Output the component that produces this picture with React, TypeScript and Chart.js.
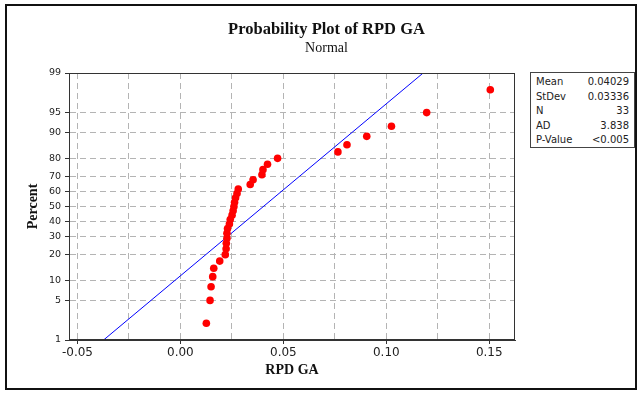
import React, { useEffect, useRef } from "react";
import { Chart, registerables } from "chart.js";

Chart.register(...registerables);

const rpdValues = [
  0.0126, 0.0144, 0.0149, 0.0157, 0.0162, 0.0191, 0.0218, 0.0222, 0.0223, 0.0226,
  0.0226, 0.0229, 0.0238, 0.0242, 0.0251, 0.0256, 0.026, 0.0263, 0.0268, 0.0275,
  0.0281, 0.0339, 0.0353, 0.0396, 0.0401, 0.0423, 0.0472, 0.0765, 0.0809, 0.0905,
  0.1025, 0.1196, 0.1505,
];
// Plotting positions (percent)
const percentValues = [
  2.1, 5.09, 8.08, 11.08, 14.07, 17.07, 20.06, 23.05, 26.05, 29.04,
  32.04, 35.03, 38.02, 41.02, 44.01, 47.01, 50.0, 52.99, 55.99, 58.98,
  61.98, 64.97, 67.96, 70.96, 73.95, 76.95, 79.94, 82.93, 85.93, 88.92,
  91.92, 94.91, 97.9,
];
// Fitted normal line end points
const fitLineX = [-0.0373, 0.1179];
const fitLinePercent = [1, 99];

const yTickPercents = [1, 5, 10, 20, 30, 40, 50, 60, 70, 80, 90, 95, 99];
const xTickValues = [-0.05, -0.025, 0, 0.025, 0.05, 0.075, 0.1, 0.125, 0.15];
const xTickLabels = ["-0.05", "", "0.00", "", "0.05", "", "0.10", "", "0.15"];

const statLabels = ["Mean", "StDev", "N", "AD", "P-Value"];
const statValues = ["0.04029", "0.03336", "33", "3.838", "<0.005"];

function probit(p: number): number {
  const a = [-3.969683028665376e1, 2.209460984245205e2, -2.759285104469687e2, 1.38357751867269e2, -3.066479806614716e1, 2.506628277459239];
  const b = [-5.447609879822406e1, 1.615858368580409e2, -1.556989798598866e2, 6.680131188771972e1, -1.328068155288572e1];
  const c = [-7.784894002430293e-3, -3.223964580411365e-1, -2.400758277161838, -2.549732539343734, 4.374664141464968, 2.938163982698783];
  const d = [7.784695709041462e-3, 3.224671290700398e-1, 2.445134137142996, 3.754408661907416];
  const pl = 0.02425;
  const ph = 1 - pl;
  let q: number, r: number;
  if (p < pl) {
    q = Math.sqrt(-2 * Math.log(p));
    return (((((c[0] * q + c[1]) * q + c[2]) * q + c[3]) * q + c[4]) * q + c[5]) / ((((d[0] * q + d[1]) * q + d[2]) * q + d[3]) * q + 1);
  }
  if (p <= ph) {
    q = p - 0.5;
    r = q * q;
    return ((((((a[0] * r + a[1]) * r + a[2]) * r + a[3]) * r + a[4]) * r + a[5]) * q) / (((((b[0] * r + b[1]) * r + b[2]) * r + b[3]) * r + b[4]) * r + 1);
  }
  q = Math.sqrt(-2 * Math.log(1 - p));
  return -(((((c[0] * q + c[1]) * q + c[2]) * q + c[3]) * q + c[4]) * q + c[5]) / ((((d[0] * q + d[1]) * q + d[2]) * q + d[3]) * q + 1);
}

const framePlugin = {
  id: "plotFrame",
  afterDatasetsDraw(chart: any) {
    const { ctx, chartArea } = chart;
    const l = Math.round(chartArea.left) + 0.5;
    const t = Math.round(chartArea.top) + 0.5;
    const r = Math.round(chartArea.right) - 0.5;
    const b = Math.round(chartArea.bottom) - 0.5;
    ctx.save();
    ctx.strokeStyle = "#333";
    ctx.lineWidth = 1;
    ctx.strokeRect(l, t, r - l, b - t);
    ctx.restore();
  },
};

export default function App() {
  const canvasRef = useRef<HTMLCanvasElement | null>(null);

  useEffect(() => {
    if (!canvasRef.current) return;
    const points = rpdValues.map((v, i) => ({ x: v, y: probit(percentValues[i] / 100) }));
    const line = fitLineX.map((v, i) => ({ x: v, y: probit(fitLinePercent[i] / 100) }));
    const tickFont = { family: "DejaVu Sans", size: 12 };
    const chart = new Chart(canvasRef.current, {
      type: "scatter",
      data: {
        datasets: [
          {
            label: "RPD GA",
            data: points,
            backgroundColor: "#ff0000",
            borderColor: "#ff0000",
            borderWidth: 0,
            pointRadius: 3.8,
            order: 1,
          },
          {
            label: "Fit",
            type: "line",
            data: line,
            borderColor: "#0000ff",
            borderWidth: 1,
            pointRadius: 0,
            fill: false,
            order: 2,
          } as any,
        ],
      },
      options: {
        animation: false,
        responsive: false,
        events: [],
        layout: { padding: { left: 11, right: 0, top: 0, bottom: 0 } },
        plugins: {
          legend: { display: false },
          tooltip: { enabled: false },
          title: {
            display: true,
            text: "Probability Plot of RPD GA",
            color: "#111",
            font: { family: "Liberation Serif", size: 16.5, weight: "bold", lineHeight: 1.2 },
            padding: { top: 20, bottom: 0 },
          },
          subtitle: {
            display: true,
            text: "Normal",
            color: "#111",
            font: { family: "Liberation Serif", size: 14, lineHeight: 1.2 },
            padding: { top: 0, bottom: 16.4 },
          },
        },
        scales: {
          x: {
            type: "linear",
            min: -0.0541,
            max: 0.1625,
            afterBuildTicks: (scale: any) => {
              scale.ticks = xTickValues.map((v) => ({ value: v }));
            },
            afterFit: (scale: any) => {
              scale.height = 54;
            },
            ticks: {
              autoSkip: false,
              maxRotation: 0,
              padding: 2,
              color: "#222",
              font: tickFont,
              callback: (_v: any, i: number) => xTickLabels[i],
            },
            grid: {
              color: "#b4b4b4",
              lineWidth: 1,
              tickLength: 4,
              tickColor: (ctx: any) => (xTickLabels[ctx.index] ? "#333" : "rgba(0,0,0,0)"),
              tickBorderDash: [],
            } as any,
            border: { display: true, color: "#333", width: 1, dash: [6, 4] },
            title: {
              display: true,
              text: "RPD GA",
              color: "#111",
              font: { family: "Liberation Serif", size: 14, weight: "bold", lineHeight: 1.2 },
              padding: { top: 0, bottom: 15.6 },
            },
          },
          y: {
            type: "linear",
            min: probit(0.01),
            max: probit(0.99),
            afterBuildTicks: (scale: any) => {
              scale.ticks = yTickPercents.map((p) => ({ value: probit(p / 100) }));
            },
            afterFit: (scale: any) => {
              scale.width = 58;
            },
            ticks: {
              autoSkip: false,
              padding: 4,
              color: "#222",
              font: { family: "DejaVu Sans", size: 9.5 },
              callback: (_v: any, i: number) => String(yTickPercents[i]),
            },
            grid: {
              color: "#b4b4b4",
              lineWidth: 1,
              tickLength: 4,
              tickColor: "#333",
              tickBorderDash: [],
            } as any,
            border: { display: true, color: "#333", width: 1, dash: [6, 4] },
            title: {
              display: true,
              text: "Percent",
              color: "#111",
              font: { family: "Liberation Serif", size: 14, weight: "bold", lineHeight: 1.2 },
              padding: { top: 13.6, bottom: 0 },
            },
          },
          side: {
            type: "linear",
            position: "right",
            display: true,
            min: 0,
            max: 1,
            afterFit: (scale: any) => {
              scale.width = 127;
            },
            ticks: { display: false },
            grid: { display: false, drawOnChartArea: false, drawTicks: false },
            border: { display: false },
          },
        },
      },
      plugins: [framePlugin],
    });
    return () => chart.destroy();
  }, []);

  return (
    <div style={{ position: "absolute", left: 0, top: 0, width: 642, height: 394, background: "#fff", overflow: "hidden" }}>
      <canvas ref={canvasRef} width={642} height={394} style={{ position: "absolute", left: 0, top: 0, width: 642, height: 394 }} />
      <div
        style={{
          position: "absolute",
          left: 5,
          top: 4,
          width: 632,
          height: 386,
          border: "2px solid #111",
          boxSizing: "border-box",
          pointerEvents: "none",
        }}
      />
      <div
        style={{
          position: "absolute",
          left: 530,
          top: 72,
          width: 105,
          height: 76,
          border: "1px solid #444",
          boxSizing: "border-box",
          background: "#fff",
          fontFamily: "DejaVu Sans",
          fontSize: 10,
          color: "#222",
          padding: "2px 5px 0 5px",
        }}
      >
        {statLabels.map((lab, i) => (
          <div key={lab} style={{ display: "flex", justifyContent: "space-between", height: 14.6, lineHeight: "14.6px" }}>
            <span>{lab}</span>
            <span>{statValues[i]}</span>
          </div>
        ))}
      </div>
    </div>
  );
}
